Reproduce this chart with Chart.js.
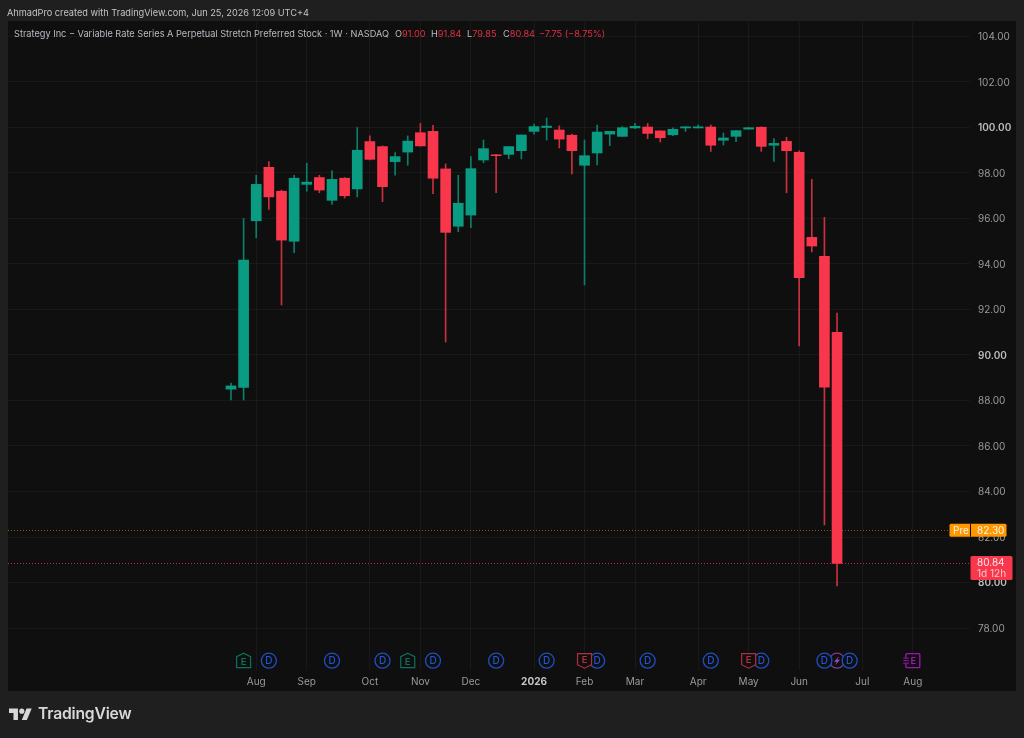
<!DOCTYPE html>
<html>
<head>
<meta charset="utf-8">
<title>Strategy Inc weekly chart</title>
<script src="https://cdn.jsdelivr.net/npm/chart.js@4/dist/chart.umd.min.js"></script>
<style>
  html, body { margin: 0; padding: 0; background: #1f1f1f; width: 1024px; height: 738px; overflow: hidden; }
  body { position: relative; font-family: Inter, "Liberation Sans", sans-serif; }
  #wrap { position: absolute; left: 0; top: 0; width: 1024px; height: 738px; }
  .t { position: absolute; white-space: pre; font-size: 9.2px; line-height: 14px; }
  .g { color: #b8bbc2; }
  .r { color: #e12f40; }
  #brand { position: absolute; left: 38px; top: 703px; font-size: 15.7px; line-height: 22px; font-weight: 600; color: #d8d8d8; letter-spacing: -0.2px; }
  #logo { position: absolute; left: 9px; top: 706px; }
</style>
</head>
<body>
<div id="wrap"><canvas id="c" width="1024" height="738"></canvas></div>
<div class="t" style="left:7px;top:5.5px;color:#c4c4c4">AhmadPro created with TradingView.com, Jun 25, 2026 12:09 UTC+4</div>
<div class="t g" style="left:14px;top:26.5px">Strategy Inc − Variable Rate Series A Perpetual Stretch Preferred Stock · 1W · NASDAQ</div>
<div class="t g" style="left:395px;top:26.5px">O<span class="r">91.00</span></div>
<div class="t g" style="left:431px;top:26.5px">H<span class="r">91.84</span></div>
<div class="t g" style="left:467px;top:26.5px">L<span class="r">79.85</span></div>
<div class="t g" style="left:503px;top:26.5px">C<span class="r">80.84</span></div>
<div class="t r" style="left:539px;top:26.5px">−7.75 (−8.75%)</div>
<svg id="logo" width="23" height="18" viewBox="0 0 36 28"><path fill="#d8d8d8" d="M14 22H7V11H0V4h14v18zM28 22h-8l7.5-18h8L28 22z"/><circle fill="#d8d8d8" cx="20" cy="8" r="4"/></svg>
<div id="brand">TradingView</div>
<script>
// Weekly OHLC series, oldest first
const opens  = [88.50,88.58,95.90,98.25,97.20,95.00,97.50,97.80,96.80,97.77,97.30,99.38,99.16,98.50,98.92,99.77,99.83,98.18,95.66,96.15,98.57,98.80,98.82,98.98,99.83,100.00,99.89,99.66,98.34,98.88,99.71,99.61,99.98,100.02,99.85,99.68,99.98,99.98,100.02,99.44,99.61,99.93,100.01,99.22,99.39,98.91,95.17,94.34,91.00];
const highs  = [88.77,96.00,97.90,98.50,97.25,97.90,98.43,97.90,98.10,97.80,100.00,99.63,99.19,98.90,99.63,100.18,100.10,98.40,97.90,98.72,99.45,98.82,99.16,99.67,100.15,100.42,100.07,99.71,99.45,100.11,99.83,100.04,100.18,100.18,99.85,99.99,100.03,100.12,100.11,99.76,99.86,100.00,100.03,99.51,99.57,98.97,97.72,96.05,91.84];
const lows   = [88.02,88.02,95.15,96.40,92.20,94.50,97.20,97.13,96.62,96.90,96.95,98.57,96.74,97.90,98.34,99.19,97.09,90.57,95.42,95.60,98.45,97.13,98.63,98.62,99.71,99.45,99.10,97.96,93.08,98.35,99.20,99.61,99.95,99.51,99.36,99.64,99.83,99.98,98.95,99.23,99.38,99.92,98.95,98.51,97.13,90.40,94.53,82.53,79.85];
const closes = [88.64,94.17,97.50,96.95,95.05,97.77,97.60,97.25,97.72,97.00,99.00,98.60,97.40,98.72,99.40,99.19,97.77,95.39,96.67,98.19,99.07,98.76,99.16,99.67,100.04,100.06,99.49,98.98,98.76,99.80,99.83,99.99,100.05,99.74,99.55,99.92,100.03,100.03,99.22,99.54,99.86,99.99,99.17,99.30,98.98,93.40,94.79,88.59,80.84];

// Axis ticks: month starts in week positions, and price levels
const monthWeeks  = [2,6,11,15,19,24,28,32,37,41,45,50,54];
const monthLabels = ["Aug","Sep","Oct","Nov","Dec","2026","Feb","Mar","Apr","May","Jun","Jul","Aug"];
const priceTicks  = [78,80,82,84,86,88,90,92,94,96,98,100,102,104];

// Event flags by week position
const dividendWeeks = [3,8,12,16,21,25,29,33,38,42,47,49];
const earningsUp    = [1,14];
const earningsDown  = [28,41];
const earningsNext  = [54];
const splashWeeks   = [48];

// Session prices shown on the scale
const preMarketPrice = 82.30;
const countdownText  = "1d 12h";

const UP = "#0a9c82", DOWN = "#f8374c";
const WICK_UP = "#0c7f6b", WICK_DOWN = "#c9313f";
const PANEL = "#0f0f0f";

const isUp = closes.map((c, i) => c >= opens[i]);
const wickBars = highs.map((h, i) => ({ x: i, y: [lows[i], h] }));
const bodyBars = opens.map((o, i) => ({ x: i, y: [Math.min(o, closes[i]), Math.max(o, closes[i])] }));
const isRoundPrice = ctx => !!ctx.tick && ctx.tick.value % 10 === 0;
const isYearLabel = ctx => monthLabels[ctx.index] === "2026";

function roundRectPath(ctx, x, y, w, h, r) {
  ctx.beginPath();
  ctx.roundRect(x, y, w, h, r);
}

const panelPlugin = {
  id: "panel",
  beforeDraw(chart) {
    const { ctx, chartArea: a, scales: { x, y } } = chart;
    ctx.save();
    ctx.fillStyle = PANEL;
    ctx.fillRect(x.left, a.top - 1, y.right - x.left, x.bottom - a.top + 1);
    ctx.restore();
  },
  beforeDatasetsDraw(chart) {
    const { ctx, chartArea: a, scales: { y } } = chart;
    const lines = [[preMarketPrice, "rgba(255,152,0,0.5)", 949], [closes[closes.length - 1], "rgba(248,55,76,0.75)", 970]];
    ctx.save();
    ctx.lineWidth = 1;
    ctx.setLineDash([1, 2]);
    for (const [p, col, end] of lines) {
      const py = Math.round(y.getPixelForValue(p)) + 0.5;
      ctx.strokeStyle = col;
      ctx.beginPath();
      ctx.moveTo(a.left, py);
      ctx.lineTo(end, py);
      ctx.stroke();
    }
    ctx.restore();
  },
  afterDraw(chart) {
    const { ctx, scales: { x, y } } = chart;
    const flagY = 660.7;
    ctx.save();
    ctx.textAlign = "center";
    ctx.textBaseline = "middle";

    // Splash flag sits behind the dividend circles
    for (const w of splashWeeks) {
      const cx = x.getPixelForValue(w);
      ctx.strokeStyle = "#7d3a96";
      ctx.lineWidth = 1.2;
      ctx.beginPath();
      ctx.arc(cx, flagY, 7.5, 0, Math.PI * 2);
      ctx.stroke();
      ctx.fillStyle = "#a445c4";
      ctx.beginPath();
      ctx.moveTo(cx + 2, flagY - 4.5);
      ctx.lineTo(cx - 3, flagY + 1);
      ctx.lineTo(cx - 0.3, flagY + 1);
      ctx.lineTo(cx - 2, flagY + 4.5);
      ctx.lineTo(cx + 3, flagY - 1);
      ctx.lineTo(cx + 0.3, flagY - 1);
      ctx.closePath();
      ctx.fill();
    }

    for (const w of dividendWeeks) {
      const cx = x.getPixelForValue(w);
      ctx.fillStyle = PANEL;
      ctx.strokeStyle = "#1d4fc4";
      ctx.lineWidth = 1.3;
      ctx.beginPath();
      ctx.arc(cx, flagY, 7.5, 0, Math.PI * 2);
      ctx.fill();
      ctx.stroke();
      ctx.fillStyle = "#2356d2";
      ctx.font = "500 10px Inter";
      ctx.fillText("D", cx, flagY + 0.5);
    }

    // House-shaped flag for a beat, shield-shaped flag for a miss
    const drawEarnings = (w, col, up) => {
      const cx = x.getPixelForValue(w);
      ctx.fillStyle = PANEL;
      ctx.strokeStyle = col;
      ctx.lineWidth = 1.2;
      ctx.beginPath();
      if (up) {
        ctx.moveTo(cx, flagY - 7.5);
        ctx.lineTo(cx + 7, flagY - 4);
        ctx.lineTo(cx + 7, flagY + 7);
        ctx.lineTo(cx - 7, flagY + 7);
        ctx.lineTo(cx - 7, flagY - 4);
      } else {
        ctx.moveTo(cx - 7, flagY - 7);
        ctx.lineTo(cx + 7, flagY - 7);
        ctx.lineTo(cx + 7, flagY + 4);
        ctx.lineTo(cx, flagY + 7.5);
        ctx.lineTo(cx - 7, flagY + 4);
      }
      ctx.closePath();
      ctx.fill();
      ctx.stroke();
      ctx.fillStyle = col;
      ctx.font = "600 9.5px Inter";
      ctx.fillText("E", cx, flagY + (up ? 1 : -0.5));
    };
    earningsUp.forEach(w => drawEarnings(w, "#0f6f5c", true));
    earningsDown.forEach(w => drawEarnings(w, "#b32e3d", false));

    for (const w of earningsNext) {
      const cx = x.getPixelForValue(w);
      ctx.strokeStyle = "#a312b8";
      ctx.lineWidth = 1.3;
      ctx.beginPath();
      ctx.roundRect(cx - 7, flagY - 7, 14, 14, 1);
      ctx.stroke();
      ctx.strokeStyle = PANEL;
      ctx.lineWidth = 3;
      ctx.beginPath();
      ctx.moveTo(cx - 7, flagY - 3);
      ctx.lineTo(cx - 7, flagY + 3);
      ctx.stroke();
      ctx.strokeStyle = "#a312b8";
      ctx.lineWidth = 1;
      for (const dy of [-2.5, 0, 2.5]) {
        ctx.beginPath();
        ctx.moveTo(cx - 9.5, flagY + dy);
        ctx.lineTo(cx - 4, flagY + dy);
        ctx.stroke();
      }
      ctx.fillStyle = "#a312b8";
      ctx.font = "600 9.5px Inter";
      ctx.fillText("E", cx + 0.5, flagY + 0.5);
    }

    // Pre-market tag on the price scale
    const preY = y.getPixelForValue(preMarketPrice);
    ctx.fillStyle = "#ff9800";
    roundRectPath(ctx, 949.5, preY - 6.5, 57, 13, 1.5);
    ctx.fill();
    ctx.fillStyle = PANEL;
    ctx.fillRect(970, preY - 6.5, 1, 13);
    ctx.fillStyle = "#fff6e6";
    ctx.font = "10px Inter";
    ctx.textAlign = "left";
    ctx.fillText("Pre", 953, preY + 0.5);
    ctx.fillText(preMarketPrice.toFixed(2), 977, preY + 0.5);

    // Last price tag with the bar countdown underneath
    const last = closes[closes.length - 1];
    const lastY = y.getPixelForValue(last);
    ctx.fillStyle = DOWN;
    roundRectPath(ctx, 970.5, lastY - 7.5, 42, 24, 1.5);
    ctx.fill();
    ctx.fillStyle = "#ffe9ec";
    ctx.fillText(last.toFixed(2), 977, lastY - 0.5);
    ctx.fillStyle = "#ffc4cb";
    ctx.fillText(countdownText, 977, lastY + 11);
    ctx.restore();
  }
};

new Chart(document.getElementById("c"), {
  type: "bar",
  plugins: [panelPlugin],
  data: {
    datasets: [
      { label: "Range", data: wickBars, barThickness: 1, grouped: false, order: 2,
        backgroundColor: isUp.map(u => u ? WICK_UP : WICK_DOWN), borderWidth: 0 },
      { label: "Body", data: bodyBars, barThickness: 10, grouped: false, order: 1,
        backgroundColor: isUp.map(u => u ? UP : DOWN), borderWidth: 0 }
    ]
  },
  options: {
    responsive: false,
    animation: false,
    events: [],
    layout: { padding: { left: 8, right: 8, top: 22, bottom: 47 } },
    plugins: { legend: { display: false }, tooltip: { enabled: false } },
    scales: {
      x: {
        type: "linear",
        min: -17.66,
        max: 58.53,
        offset: false,
        afterBuildTicks(s) { s.ticks = monthWeeks.map(v => ({ value: v })); },
        afterFit(s) { s.height = 21; },
        grid: { color: "rgba(255,255,255,0.045)", drawTicks: false, lineWidth: 1, offset: false },
        border: { display: false },
        ticks: {
          autoSkip: false, maxRotation: 0, padding: 6,
          color: ctx => isYearLabel(ctx) ? "#c8c8c8" : "#9a9a9a",
          font: ctx => ({ family: "Inter", size: 10, weight: isYearLabel(ctx) ? "700" : "400" }),
          callback: (v, i) => monthLabels[i]
        }
      },
      y: {
        position: "right",
        min: 76.154,
        max: 104.637,
        afterBuildTicks(s) { s.ticks = priceTicks.map(v => ({ value: v })); },
        afterFit(s) { s.width = 46; },
        grid: { color: "rgba(255,255,255,0.045)", drawTicks: false, lineWidth: 1 },
        border: { display: false },
        ticks: {
          autoSkip: false, padding: 8, labelOffset: 0.7,
          color: ctx => isRoundPrice(ctx) ? "#bdbdbd" : "#9a9a9a",
          font: ctx => ({ family: "Inter", size: 10, weight: isRoundPrice(ctx) ? "600" : "400" }),
          callback: v => v.toFixed(2)
        }
      }
    }
  }
});
</script>
</body>
</html>
